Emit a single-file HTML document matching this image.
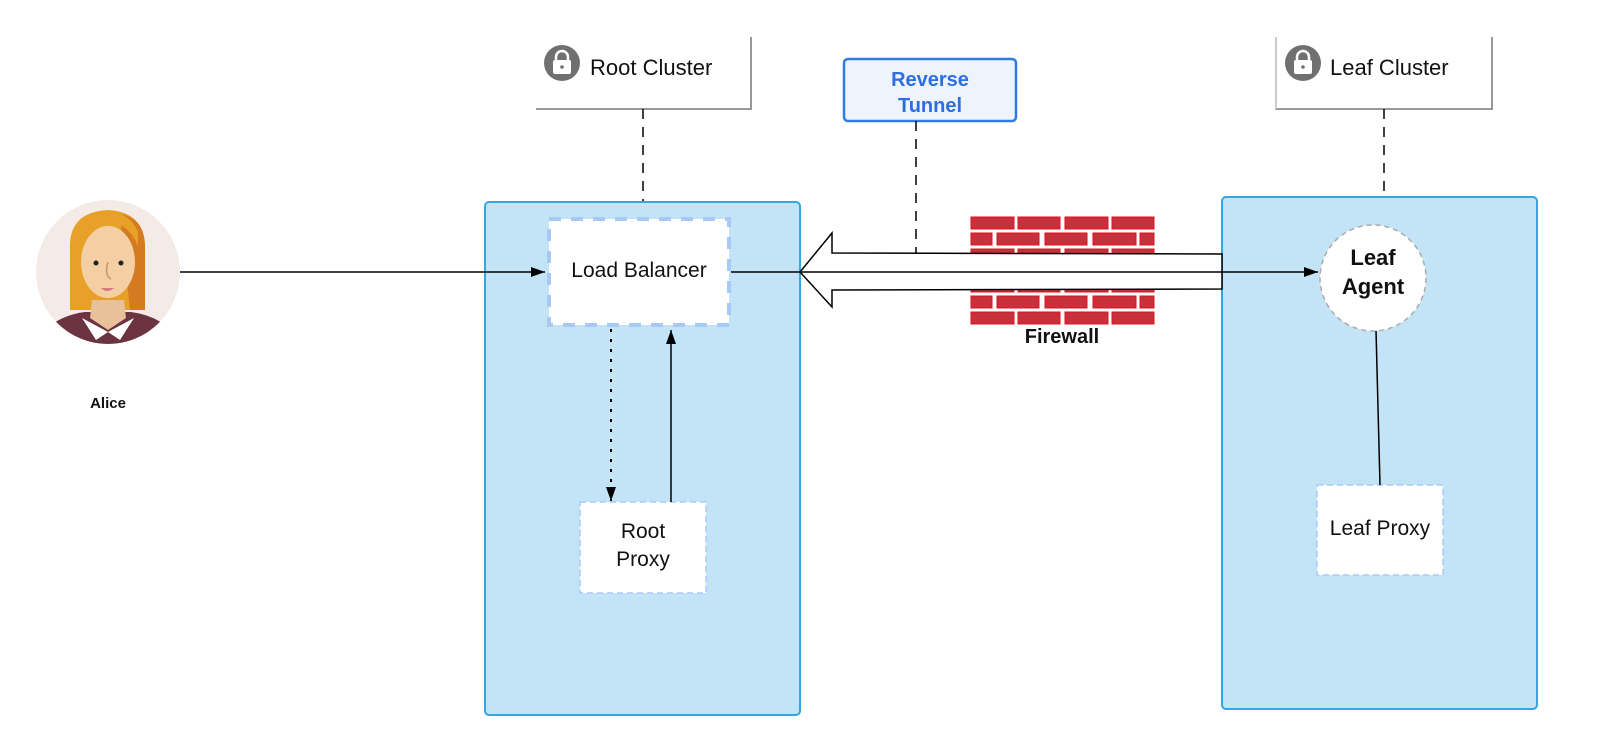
<!DOCTYPE html>
<html><head><meta charset="utf-8"><style>
html,body{margin:0;padding:0;background:#fff;}
svg{display:block;}
text{font-family:"Liberation Sans",sans-serif;}
</style></head><body>
<svg width="1600" height="751" viewBox="0 0 1600 751" xmlns="http://www.w3.org/2000/svg">
<defs>
<marker id="ah" markerWidth="14" markerHeight="10" refX="14" refY="5" orient="auto" markerUnits="userSpaceOnUse">
<path d="M0,0 L14,5 L0,10 Z" fill="#000"/></marker>
</defs>
<!-- Root cluster label box -->
<path d="M751,37 L751,109 L536,109" fill="none" stroke="#999" stroke-width="2"/>
<circle cx="562" cy="63" r="18" fill="#707070"/>
<path d="M556,61 v-4 a6,6 0 0 1 12,0 v4" fill="none" stroke="#fff" stroke-width="2.5"/>
<rect x="553" y="60" width="18" height="14" rx="2" fill="#fff"/>
<circle cx="562" cy="67" r="1.8" fill="#707070"/>
<text x="590" y="75" font-size="22" fill="#111">Root Cluster</text>
<line x1="643" y1="109" x2="643" y2="202" stroke="#000" stroke-width="1.5" stroke-dasharray="10,8"/>

<!-- Leaf cluster label box -->
<path d="M1276,37 L1276,109 L1492,109 L1492,37" fill="none" stroke="#999" stroke-width="2"/>
<path d="M1276,37 L1276,109" stroke="#ccc" stroke-width="2"/>
<circle cx="1303" cy="63" r="18" fill="#707070"/>
<path d="M1297,61 v-4 a6,6 0 0 1 12,0 v4" fill="none" stroke="#fff" stroke-width="2.5"/>
<rect x="1294" y="60" width="18" height="14" rx="2" fill="#fff"/>
<circle cx="1303" cy="67" r="1.8" fill="#707070"/>
<text x="1330" y="75" font-size="22" fill="#111">Leaf Cluster</text>
<line x1="1384" y1="109" x2="1384" y2="197" stroke="#000" stroke-width="1.5" stroke-dasharray="10,8"/>

<!-- Containers -->
<rect x="485" y="202" width="315" height="513" rx="4" fill="#c3e4f6" stroke="#35a6df" stroke-width="2"/>
<rect x="1222" y="197" width="315" height="512" rx="4" fill="#c3e4f6" stroke="#35a6df" stroke-width="2"/>

<!-- Reverse tunnel -->
<rect x="844" y="59" width="172" height="62" rx="4" fill="#edf4fc" stroke="#2f7be0" stroke-width="2.5"/>
<text x="930" y="86" font-size="20" font-weight="bold" fill="#2d6fe0" text-anchor="middle" font-family="DejaVu Sans,sans-serif">Reverse</text>
<text x="930" y="112" font-size="20" font-weight="bold" fill="#2d6fe0" text-anchor="middle" font-family="DejaVu Sans,sans-serif">Tunnel</text>

<!-- Firewall bricks -->
<g fill="#c8313c" stroke="#e01020" stroke-width="1">
<rect x="971" y="217" width="43" height="12"/><rect x="1018" y="217" width="42" height="12"/><rect x="1065" y="217" width="43" height="12"/><rect x="1112" y="217" width="42" height="12"/>
<rect x="971" y="233" width="21" height="12"/><rect x="997" y="233" width="42" height="12"/><rect x="1045" y="233" width="42" height="12"/><rect x="1093" y="233" width="43" height="12"/><rect x="1140" y="233" width="14" height="12"/>
<rect x="971" y="249" width="43" height="12"/><rect x="1018" y="249" width="42" height="12"/><rect x="1065" y="249" width="43" height="12"/><rect x="1112" y="249" width="42" height="12"/>
<rect x="971" y="280" width="43" height="12"/><rect x="1018" y="280" width="42" height="12"/><rect x="1065" y="280" width="43" height="12"/><rect x="1112" y="280" width="42" height="12"/>
<rect x="971" y="296" width="21" height="12"/><rect x="997" y="296" width="42" height="12"/><rect x="1045" y="296" width="42" height="12"/><rect x="1093" y="296" width="43" height="12"/><rect x="1140" y="296" width="14" height="12"/>
<rect x="971" y="312" width="43" height="12"/><rect x="1018" y="312" width="42" height="12"/><rect x="1065" y="312" width="43" height="12"/><rect x="1112" y="312" width="42" height="12"/>
</g>
<text x="1062" y="343" font-size="20" font-weight="bold" fill="#111" text-anchor="middle">Firewall</text>

<!-- Big hollow arrow -->
<path d="M800,272 L832,233 L832,253 L1222,254 L1222,289 L832,290 L832,307 Z" fill="#fff" stroke="#000" stroke-width="1.5"/>
<line x1="916" y1="121" x2="916" y2="253" stroke="#000" stroke-width="1.5" stroke-dasharray="10,8"/>

<!-- Load balancer -->
<rect x="549" y="219" width="180" height="106" fill="#fff" stroke="#a9c9f5" stroke-width="4" stroke-dasharray="12,10"/>
<text x="639" y="277" font-size="21" fill="#111" text-anchor="middle">Load Balancer</text>

<!-- Root proxy -->
<rect x="580" y="502" width="126" height="91" fill="#fff" stroke="#a9c9f5" stroke-width="1.5" stroke-dasharray="6,4"/>
<text x="643" y="538" font-size="21" fill="#111" text-anchor="middle">Root</text>
<text x="643" y="566" font-size="21" fill="#111" text-anchor="middle">Proxy</text>

<!-- Leaf proxy -->
<rect x="1317" y="485" width="126" height="90" fill="#fff" stroke="#a9c9f5" stroke-width="1.5" stroke-dasharray="6,4"/>
<text x="1380" y="535" font-size="21" fill="#111" text-anchor="middle">Leaf Proxy</text>

<!-- Leaf agent -->
<line x1="1376" y1="330" x2="1380" y2="485" stroke="#000" stroke-width="1.5"/>
<circle cx="1373" cy="278" r="53" fill="#fff" stroke="#aaa" stroke-width="1.5" stroke-dasharray="5,4"/>
<text x="1373" y="265" font-size="22" font-weight="bold" fill="#111" text-anchor="middle">Leaf</text>
<text x="1373" y="294" font-size="22" font-weight="bold" fill="#111" text-anchor="middle">Agent</text>

<!-- Connectors -->
<line x1="180" y1="272" x2="545" y2="272" stroke="#000" stroke-width="1.5" marker-end="url(#ah)"/>
<line x1="731" y1="272" x2="1318" y2="272" stroke="#000" stroke-width="1.5" marker-end="url(#ah)"/>
<line x1="611" y1="329" x2="611" y2="501" stroke="#000" stroke-width="2" stroke-dasharray="3,7" marker-end="url(#ah)"/>
<line x1="671" y1="502" x2="671" y2="330" stroke="#000" stroke-width="1.5" marker-end="url(#ah)"/>

<!-- Alice avatar -->
<defs><clipPath id="cp"><circle cx="108" cy="272" r="72"/></clipPath></defs>
<circle cx="108" cy="272" r="72" fill="#f4ebe6"/>
<g clip-path="url(#cp)">
<path d="M70,250 Q68,212 108,210 Q146,212 145,250 L145,310 L70,310 Z" fill="#e7a028"/>
<path d="M120,214 Q146,218 145,250 L145,310 L130,310 Z" fill="#d47a20"/>
<path d="M30,360 Q40,318 85,312 L131,312 Q176,318 186,360 Z" fill="#6b3440"/>
<path d="M92,300 L124,300 L126,318 L108,330 L90,318 Z" fill="#e8c09a"/>
<path d="M82,318 L108,332 L96,340 Z M134,318 L108,332 L120,340 Z" fill="#fff"/>
<ellipse cx="108" cy="262" rx="27" ry="36" fill="#f3cfa3"/>
<path d="M80,245 Q84,222 112,222 Q130,226 138,246 L138,232 Q130,212 108,212 Q80,214 80,245 Z" fill="#e7a028"/>
<circle cx="96" cy="263" r="2.5" fill="#222"/><circle cx="121" cy="263" r="2.5" fill="#222"/>
<path d="M108,262 Q104,275 111,279" fill="none" stroke="#c8936a" stroke-width="1.5"/>
<path d="M101,288 Q107,294 114,288 Z" fill="#d47a80"/>
</g>
<text x="108" y="408" font-size="15" font-weight="bold" fill="#111" text-anchor="middle">Alice</text>
</svg>
</body></html>
